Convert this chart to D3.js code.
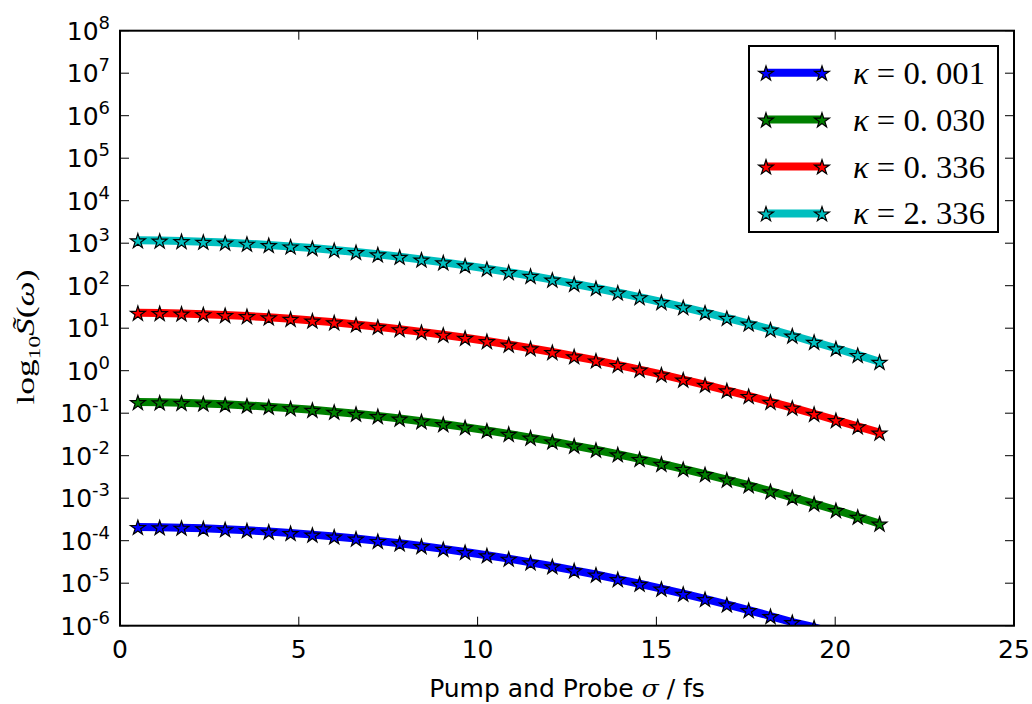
<!DOCTYPE html>
<html>
<head>
<meta charset="utf-8">
<script src="https://cdn.jsdelivr.net/npm/d3@7"></script>
<style>
  html, body { margin: 0; padding: 0; background: #fff; }
  svg { display: block; }
</style>
</head>
<body>
<svg id="chart" width="1032" height="704"></svg>
<script>
// ---- data ----
const sigma = [0.50, 1.11, 1.72, 2.33, 2.94, 3.55, 4.16, 4.77, 5.38, 5.99, 6.60, 7.21, 7.82, 8.43,
  9.04, 9.65, 10.26, 10.87, 11.48, 12.09, 12.70, 13.31, 13.92, 14.53, 15.14, 15.75, 16.36, 16.97,
  17.58, 18.19, 18.80, 19.41, 20.02, 20.63, 21.24];

const kappaLabels = ["0. 001", "0. 030", "0. 336", "2. 336"];
const seriesColors = ["#0000ff", "#008000", "#ff0000", "#00bfbf"];

const sK0001 = [2.109e-4, 2.080e-4, 2.027e-4, 1.959e-4, 1.867e-4, 1.762e-4, 1.644e-4, 1.520e-4, 1.390e-4,
  1.256e-4, 1.122e-4, 9.90e-5, 8.67e-5, 7.50e-5, 6.43e-5, 5.44e-5, 4.55e-5, 3.78e-5, 3.09e-5, 2.51e-5,
  2.01e-5, 1.60e-5, 1.25e-5, 9.72e-6, 7.46e-6, 5.66e-6, 4.26e-6, 3.16e-6, 2.33e-6, 1.69e-6, 1.22e-6,
  9.2e-7, 6.5e-7, 4.5e-7, 3.1e-7];
const sK0030 = [0.1824, 0.1799, 0.1754, 0.1694, 0.1615, 0.1524, 0.1422, 0.1314, 0.1202, 0.1086, 0.0971,
  0.0857, 0.0750, 0.0649, 0.0556, 0.0470, 0.0394, 0.0327, 0.0267, 0.0217, 0.0173, 0.0138, 0.01083,
  0.00841, 0.00646, 0.00489, 0.00369, 0.00274, 0.00202, 0.00146, 0.00105, 0.000749, 0.000527,
  0.000367, 0.000253];
const sK0336 = [23.07, 22.76, 22.18, 21.43, 20.42, 19.28, 17.99, 16.63, 15.20, 13.74, 12.28, 10.83, 9.49,
  8.20, 7.04, 5.95, 4.98, 4.13, 3.38, 2.75, 2.19, 1.746, 1.370, 1.064, 0.817, 0.619, 0.467, 0.346,
  0.255, 0.185, 0.135, 0.097, 0.069, 0.049, 0.035];
const sK2336 = [1167, 1151, 1122, 1084, 1033, 975, 910, 841, 769, 695, 621, 548, 480, 415, 356, 301, 252,
  209, 171, 139, 111, 88.3, 69.3, 53.8, 41.3, 31.3, 23.6, 17.5, 12.9, 9.35, 6.73, 4.79, 3.37, 2.35, 1.62];

const xTicks = [0, 5, 10, 15, 20, 25];
const yExponents = [-6, -5, -4, -3, -2, -1, 0, 1, 2, 3, 4, 5, 6, 7, 8];

const seriesValues = [sK0001, sK0030, sK0336, sK2336];

// ---- layout ----
const svg = d3.select("#chart");
const L = 120, R = 1014, T = 30.7, B = 625.7;
const x = d3.scaleLinear().domain([0, 25]).range([L, R]);
const y = d3.scaleLog().domain([1e-6, 1e8]).range([B, T]);

svg.append("defs").append("clipPath").attr("id", "clip")
  .append("rect").attr("x", L).attr("y", T).attr("width", R - L).attr("height", B - T);

const plot = svg.append("g").attr("clip-path", "url(#clip)");
const line = d3.line().x(d => x(d[0])).y(d => y(d[1]));
const star = d3.symbol().type(d3.symbolStar).size(68);

seriesValues.forEach((vals, i) => {
  const pts = sigma.map((s, j) => [s, vals[j]]);
  plot.append("path").datum(pts)
    .attr("d", line).attr("fill", "none")
    .attr("stroke", seriesColors[i]).attr("stroke-width", 8)
    .attr("stroke-linejoin", "round");
  plot.selectAll(null).data(pts).enter().append("path")
    .attr("d", star)
    .attr("transform", d => `translate(${x(d[0])},${y(d[1]) + 1})`)
    .attr("fill", seriesColors[i]).attr("stroke", "#000").attr("stroke-width", 1.2);
});

// ---- axes (classic matplotlib: ticks inside on all sides) ----
const tickLen = 9;
const axisG = svg.append("g");
xTicks.forEach(t => {
  axisG.append("line").attr("x1", x(t)).attr("x2", x(t)).attr("y1", B).attr("y2", B - tickLen)
    .attr("stroke", "#000").attr("stroke-width", 1);
  axisG.append("line").attr("x1", x(t)).attr("x2", x(t)).attr("y1", T).attr("y2", T + tickLen)
    .attr("stroke", "#000").attr("stroke-width", 1);
  axisG.append("text").attr("x", x(t)).attr("y", 658)
    .attr("text-anchor", "middle")
    .attr("font-family", "DejaVu Sans").attr("font-size", 25).text(t);
});
yExponents.forEach(e => {
  const v = Math.pow(10, e);
  axisG.append("line").attr("x1", L).attr("x2", L + tickLen).attr("y1", y(v)).attr("y2", y(v))
    .attr("stroke", "#000").attr("stroke-width", 1);
  axisG.append("line").attr("x1", R).attr("x2", R - tickLen).attr("y1", y(v)).attr("y2", y(v))
    .attr("stroke", "#000").attr("stroke-width", 1);
  const txt = axisG.append("text").attr("x", 110).attr("y", y(v) + 9)
    .attr("text-anchor", "end")
    .attr("font-family", "DejaVu Sans").attr("font-size", 25);
  txt.append("tspan").text("10");
  txt.append("tspan").attr("dy", -11).attr("font-size", 18).text(e);
});
svg.append("rect").attr("x", L).attr("y", T).attr("width", R - L).attr("height", B - T)
  .attr("fill", "none").attr("stroke", "#000").attr("stroke-width", 2);

// ---- axis labels ----
const xl = svg.append("text").attr("x", 567).attr("y", 697)
  .attr("text-anchor", "middle").attr("font-family", "DejaVu Sans").attr("font-size", 25);
xl.append("tspan").text("Pump and Probe ");
xl.append("tspan").attr("font-family", "DejaVu Serif").attr("font-style", "italic").text("σ");
xl.append("tspan").text(" / fs");

const yl = svg.append("text").attr("transform", "translate(34,337) rotate(-90)")
  .attr("text-anchor", "middle").attr("font-family", "Liberation Serif").attr("font-size", 26)
  .attr("textLength", 135).attr("lengthAdjust", "spacingAndGlyphs");
yl.append("tspan").text("log");
yl.append("tspan").attr("dy", 6).attr("font-size", 17).text("10");
yl.append("tspan").attr("dy", -6).attr("font-style", "italic").text("S\u0303");
yl.append("tspan").text("(");
yl.append("tspan").attr("font-style", "italic").text("ω");
yl.append("tspan").text(")");

// ---- legend ----
const lg = svg.append("g");
lg.append("rect").attr("x", 749).attr("y", 46).attr("width", 249).attr("height", 186)
  .attr("fill", "#fff").attr("stroke", "#000").attr("stroke-width", 2);
kappaLabels.forEach((lab, i) => {
  const yy = 72.7 + i * 46.9;
  lg.append("line").attr("x1", 766).attr("x2", 822).attr("y1", yy).attr("y2", yy)
    .attr("stroke", seriesColors[i]).attr("stroke-width", 8);
  [766, 822].forEach(px => {
    lg.append("path").attr("d", star).attr("transform", `translate(${px},${yy + 1})`)
      .attr("fill", seriesColors[i]).attr("stroke", "#000").attr("stroke-width", 1.2);
  });
  const t = lg.append("text").attr("x", 853).attr("y", yy + 11)
    .attr("font-family", "Liberation Serif").attr("font-size", 32)
    .attr("textLength", 132).attr("lengthAdjust", "spacingAndGlyphs");
  t.append("tspan").attr("font-style", "italic").text("κ");
  t.append("tspan").text(" = " + lab);
});
</script>
</body>
</html>
